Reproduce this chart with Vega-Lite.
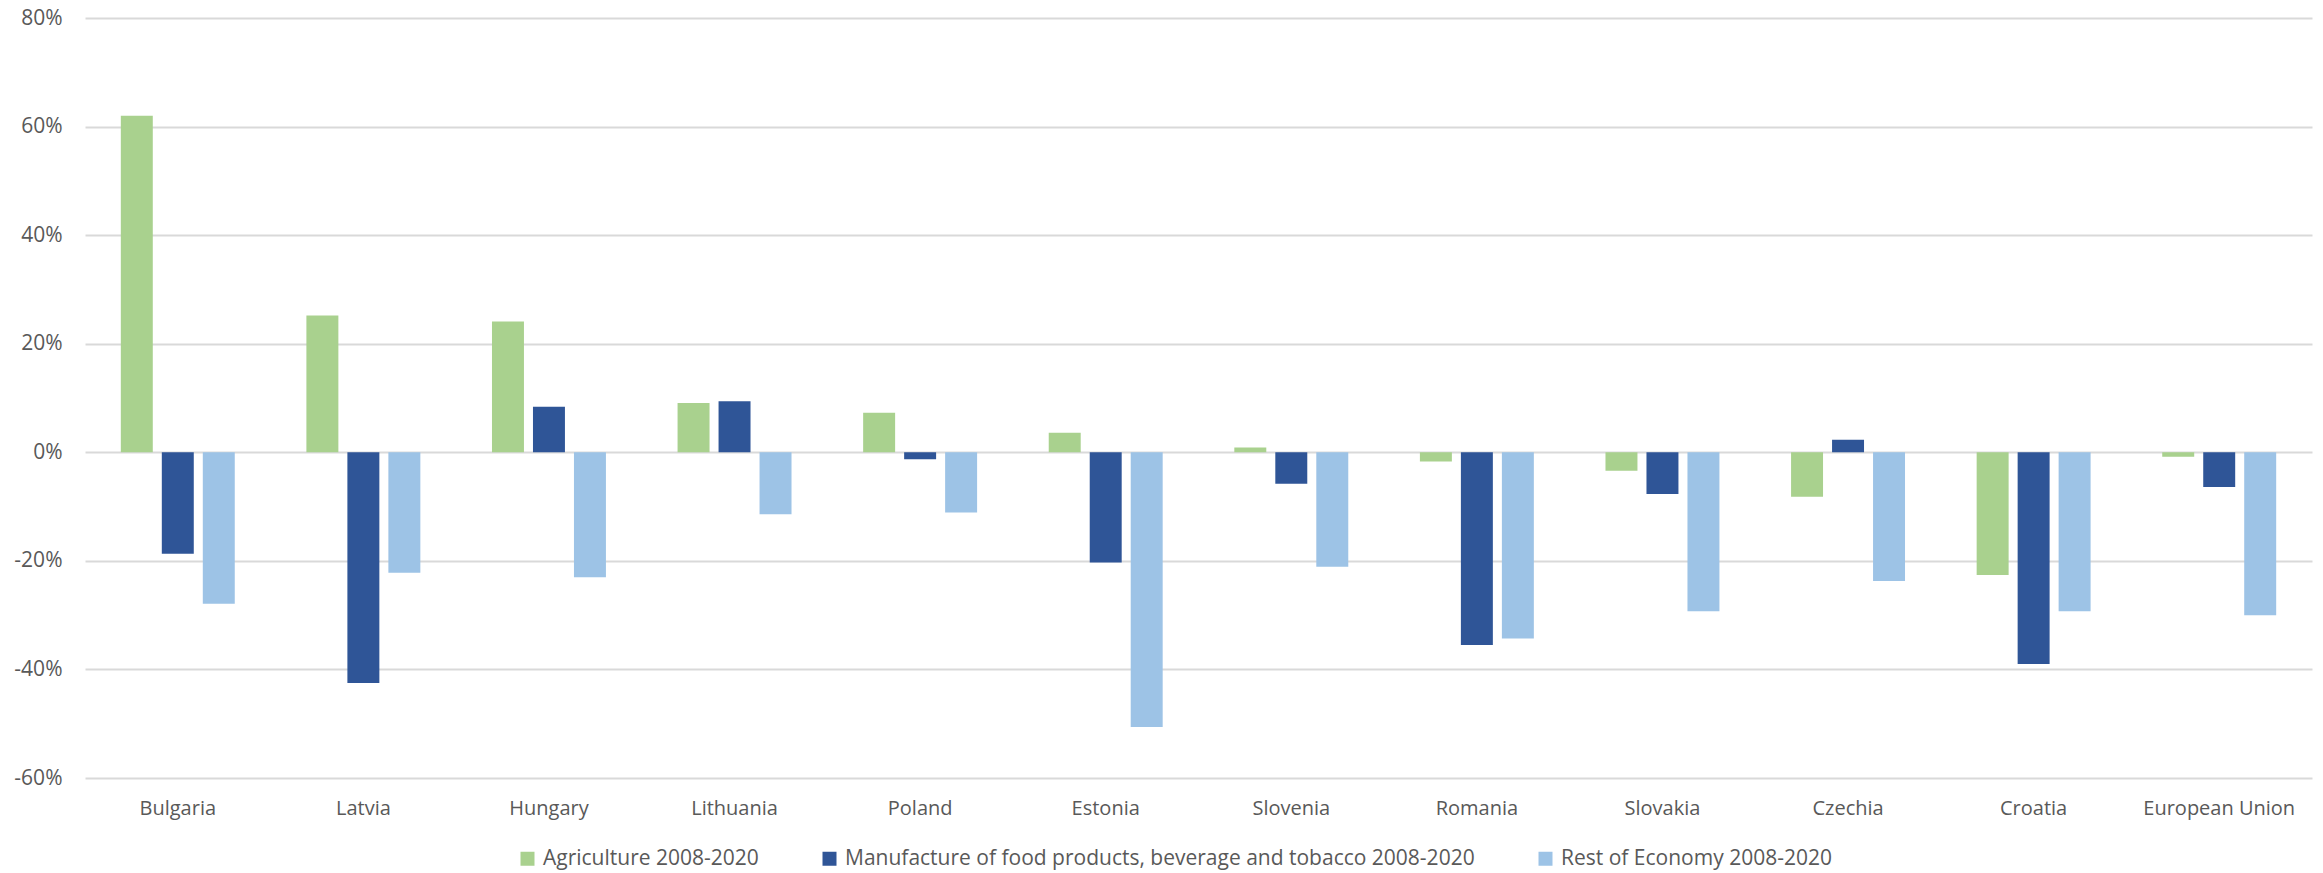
{
  "$schema": "https://vega.github.io/schema/vega-lite/v6.json",
  "autosize": {"type": "none"},
  "padding": {"left": 85, "top": 18, "right": 11, "bottom": 95},
  "width": 2227,
  "height": 760,
  "background": "white",
  "config": {
    "view": {"stroke": null},
    "font": "Open Sans",
    "axis": {"labelFont": "Open Sans", "labelColor": "#595959"}
  },
  "data": {
    "values": [
      {"country": "Bulgaria", "sector": "Agriculture 2008-2020", "change": 62.0},
      {"country": "Bulgaria", "sector": "Manufacture of food products, beverage and tobacco 2008-2020", "change": -18.7},
      {"country": "Bulgaria", "sector": "Rest of Economy 2008-2020", "change": -27.9},
      {"country": "Latvia", "sector": "Agriculture 2008-2020", "change": 25.2},
      {"country": "Latvia", "sector": "Manufacture of food products, beverage and tobacco 2008-2020", "change": -42.5},
      {"country": "Latvia", "sector": "Rest of Economy 2008-2020", "change": -22.2},
      {"country": "Hungary", "sector": "Agriculture 2008-2020", "change": 24.1},
      {"country": "Hungary", "sector": "Manufacture of food products, beverage and tobacco 2008-2020", "change": 8.4},
      {"country": "Hungary", "sector": "Rest of Economy 2008-2020", "change": -23.0},
      {"country": "Lithuania", "sector": "Agriculture 2008-2020", "change": 9.1},
      {"country": "Lithuania", "sector": "Manufacture of food products, beverage and tobacco 2008-2020", "change": 9.4},
      {"country": "Lithuania", "sector": "Rest of Economy 2008-2020", "change": -11.4},
      {"country": "Poland", "sector": "Agriculture 2008-2020", "change": 7.3},
      {"country": "Poland", "sector": "Manufacture of food products, beverage and tobacco 2008-2020", "change": -1.3},
      {"country": "Poland", "sector": "Rest of Economy 2008-2020", "change": -11.1},
      {"country": "Estonia", "sector": "Agriculture 2008-2020", "change": 3.6},
      {"country": "Estonia", "sector": "Manufacture of food products, beverage and tobacco 2008-2020", "change": -20.3},
      {"country": "Estonia", "sector": "Rest of Economy 2008-2020", "change": -50.6},
      {"country": "Slovenia", "sector": "Agriculture 2008-2020", "change": 0.9},
      {"country": "Slovenia", "sector": "Manufacture of food products, beverage and tobacco 2008-2020", "change": -5.8},
      {"country": "Slovenia", "sector": "Rest of Economy 2008-2020", "change": -21.1},
      {"country": "Romania", "sector": "Agriculture 2008-2020", "change": -1.7},
      {"country": "Romania", "sector": "Manufacture of food products, beverage and tobacco 2008-2020", "change": -35.5},
      {"country": "Romania", "sector": "Rest of Economy 2008-2020", "change": -34.3},
      {"country": "Slovakia", "sector": "Agriculture 2008-2020", "change": -3.4},
      {"country": "Slovakia", "sector": "Manufacture of food products, beverage and tobacco 2008-2020", "change": -7.7},
      {"country": "Slovakia", "sector": "Rest of Economy 2008-2020", "change": -29.3},
      {"country": "Czechia", "sector": "Agriculture 2008-2020", "change": -8.2},
      {"country": "Czechia", "sector": "Manufacture of food products, beverage and tobacco 2008-2020", "change": 2.3},
      {"country": "Czechia", "sector": "Rest of Economy 2008-2020", "change": -23.7},
      {"country": "Croatia", "sector": "Agriculture 2008-2020", "change": -22.6},
      {"country": "Croatia", "sector": "Manufacture of food products, beverage and tobacco 2008-2020", "change": -39.0},
      {"country": "Croatia", "sector": "Rest of Economy 2008-2020", "change": -29.3},
      {"country": "European Union", "sector": "Agriculture 2008-2020", "change": -0.8},
      {"country": "European Union", "sector": "Manufacture of food products, beverage and tobacco 2008-2020", "change": -6.4},
      {"country": "European Union", "sector": "Rest of Economy 2008-2020", "change": -30.0}
    ]
  },
  "mark": {"type": "bar"},
  "encoding": {
    "x": {
      "field": "country",
      "type": "nominal",
      "sort": ["Bulgaria", "Latvia", "Hungary", "Lithuania", "Poland", "Estonia", "Slovenia", "Romania", "Slovakia", "Czechia", "Croatia", "European Union"],
      "scale": {"paddingInner": 0.386, "paddingOuter": 0.193},
      "axis": {
        "title": null,
        "domain": false,
        "ticks": false,
        "tickSize": 0,
        "labelAngle": 0,
        "labelFontSize": 20,
        "labelPadding": 20
      }
    },
    "xOffset": {
      "field": "sector",
      "type": "nominal",
      "sort": ["Agriculture 2008-2020", "Manufacture of food products, beverage and tobacco 2008-2020", "Rest of Economy 2008-2020"],
      "scale": {"paddingInner": 0.22, "paddingOuter": 0}
    },
    "y": {
      "field": "change",
      "type": "quantitative",
      "scale": {"domain": [-60, 80], "nice": false},
      "axis": {
        "title": null,
        "domain": false,
        "ticks": false,
        "tickSize": 0,
        "values": [-60, -40, -20, 0, 20, 40, 60, 80],
        "labelExpr": "datum.value + '%'",
        "labelFontSize": 21,
        "labelPadding": 23,
        "gridColor": "#d9d9d9",
        "gridWidth": 2
      }
    },
    "color": {
      "field": "sector",
      "type": "nominal",
      "scale": {
        "domain": ["Agriculture 2008-2020", "Manufacture of food products, beverage and tobacco 2008-2020", "Rest of Economy 2008-2020"],
        "range": ["#a9d18e", "#2f5597", "#9dc3e6"]
      },
      "legend": {
        "title": null,
        "orient": "none",
        "direction": "horizontal",
        "legendX": 432,
        "legendY": 830,
        "symbolType": "square",
        "symbolSize": 196,
        "symbolStrokeWidth": 0,
        "labelFontSize": 21,
        "labelColor": "#595959",
        "labelOffset": 5,
        "labelLimit": 1000,
        "columnPadding": 60
      }
    }
  }
}
